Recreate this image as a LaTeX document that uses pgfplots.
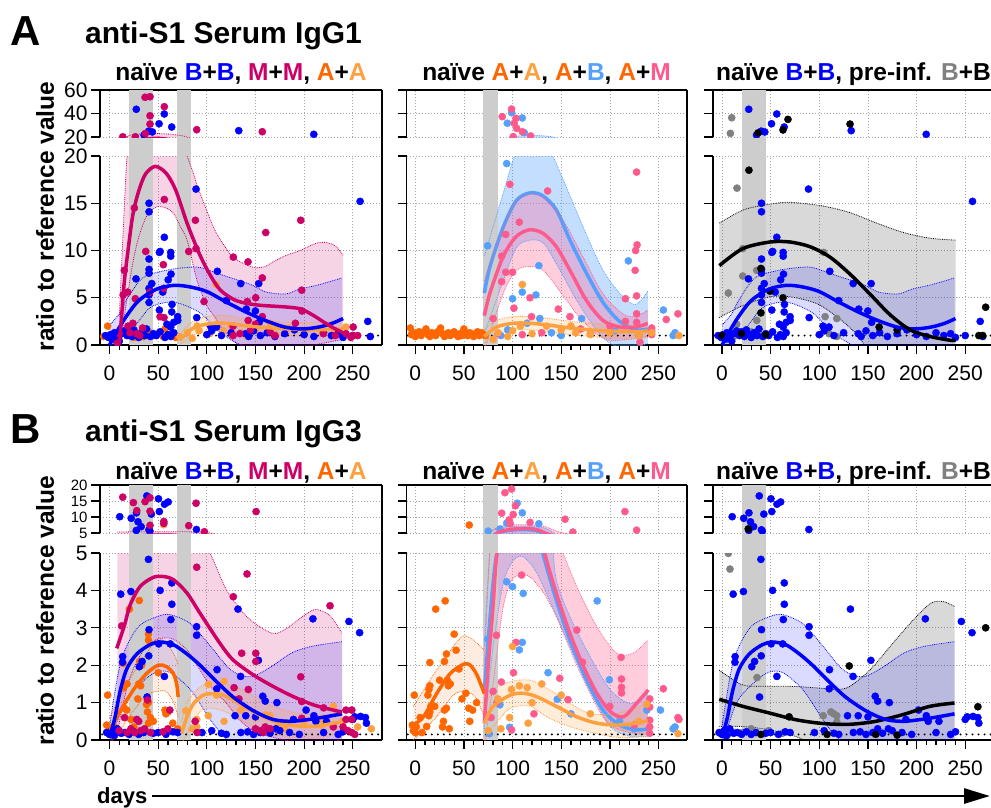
\documentclass[border=0pt]{standalone}
\usepackage{fontspec}
\setmainfont{Liberation Sans}
\usepackage{pgfplots}
\usepackage{pgfplotstable}
\pgfplotsset{compat=1.18}
\usepgfplotslibrary{fillbetween}
\usetikzlibrary{arrows.meta}

\definecolor{cB}{RGB}{0,0,255}
\definecolor{cM}{RGB}{204,0,102}
\definecolor{cA}{RGB}{255,102,0}
\definecolor{cAA}{RGB}{255,160,64}
\definecolor{cAB}{RGB}{85,160,255}
\definecolor{cAM}{RGB}{255,90,140}
\definecolor{cG}{RGB}{128,128,128}
\definecolor{cBar}{RGB}{205,205,205}

\pgfplotsset{
  every axis/.append style={
    scale only axis, clip marker paths=true,
    tick align=outside,
    major tick length=9pt, minor tick length=5pt,
    tick style={black, line width=1.3pt},
    axis line style={black, line width=1.6pt, -},
    grid=major,
    major grid style={gray!70, line width=0.7pt, dash pattern=on 1pt off 2pt},
    ticklabel style={font=\fontsize{21}{21}\selectfont},
    xticklabel style={yshift=-8pt},
    /pgf/number format/assume math mode=true,
    xtick={0,50,...,250},
  },
  lowax/.style={axis x line*=bottom, axis y line*=left, minor x tick num=4},
  upax/.style={axis x line*=top, axis y line*=left, xticklabels={}, every x tick/.style={draw=none}, minor x tick num=0},
  pL/.style={xmin=-9.8, xmax=280, width=282pt},
  pM/.style={xmin=-9, xmax=279.3, width=280.5pt},
  pR/.style={xmin=-9.25, xmax=276.5, width=278pt},
  rAlow/.style={ymin=0,ymax=20,ytick={0,5,10,15,20},height=189pt},
  rAup/.style={ymin=20,ymax=60,ytick={20,40,60},height=47pt},
  rBlow/.style={ymin=0,ymax=5,ytick={0,1,2,3,4,5},height=187pt},
  rBup/.style={ymin=5,ymax=20,ytick={5,10,15,20},height=48pt, yticklabel style={font=\fontsize{15}{15}\selectfont}},
  nolab/.style={yticklabels={}},
}

\newcommand{\band}[5]{%
  \addplot[name path=#1u, draw=#2, densely dotted, line width=0.8pt, smooth, forget plot] coordinates {#4};
  \addplot[name path=#1l, draw=#2, densely dotted, line width=0.8pt, smooth, forget plot] coordinates {#5};
  \addplot[fill=#2, fill opacity=#3, draw=none, forget plot] fill between[of=#1u and #1l];
}
\newcommand{\pts}[2]{\addplot[only marks, mark=*, mark size=3.6pt, color=#1, mark options={draw=none, fill=#1}] table[x=x,y=y] {#2};}
\newcommand{\fit}[2]{\addplot[color=#1, line width=3.5pt, smooth, no marks] coordinates {#2};}
\newcommand{\refline}[1]{\addplot[black, line width=2.2pt, dash pattern=on 0pt off 6pt, line cap=round, forget plot] coordinates {(-20,#1) (290,#1)};}

% ---------------- Row A data ----------------
\pgfplotstableread{
x y
27.5 43.6
35.5 21.7
40.3 25
44 24.3
50.9 31.3
56.3 39.6
63.9 28.5
132.8 25.4
209.9 22.3
40.6 15.0
40.6 14.1
88.9 16.5
56.3 11.4
40.6 9.1
40.6 8.0
40.6 7.6
51.2 9.8
62.9 9.8
62.9 9.4
43.4 6.5
40.6 6.0
40.6 5.3
40.6 4.5
63.2 7.5
54.7 5.6
64.2 4.3
51.2 3.7
63.9 3.5
62.9 1.9
70.1 2.6
27.2 7.0
110.8 7.8
134.8 6.5
153.3 6.5
120 4.7
149.9 3.6
89.6 2.9
110 1.9
257.5 15.2
265.4 2.5
52 9.9
60.3 6.9
70 3.0
66 2.4
59 2.2
103.8 2.0
153.8 2.4
140.6 3.8
-4 1.0
-1 0.8
1 1.1
3 0.6
5 1.3
8 0.9
10 0.4
12 1.2
15 1.5
18 1.0
20 1.4
23 0.9
25 1.6
28 1.1
30 0.8
33 1.3
36 1.0
38 1.7
42 0.9
45 1.2
48 1.0
52 1.4
57 0.8
60 1.1
63 0.9
66 1.3
100 1.1
105 1.5
115 1.0
125 1.3
140 1.2
143 0.9
148 1.5
155 1.0
162 1.3
170 0.9
180 1.2
190 1.6
200 1.1
210 0.9
220 1.3
228 1.0
235 1.2
240 0.8
250 1.0
268 0.9
}\tBA

\pgfplotstableread{
x y
13.6 20.2
26.5 20.2
36.8 23
36.5 53.8
41.6 54.3
41.6 38.1
41.6 31
56.3 45.8
89.6 26.2
157 24.5
15.2 7.9
14 5.3
18.7 5.6
25.5 14.5
37.2 9.9
26.5 4.9
41.6 5.6
56.3 15.4
55.3 8.5
55.7 6.0
51.9 3.0
56 2.9
81.4 9.9
88.2 13.2
88.9 10.2
97.1 4.6
127.2 9.3
142.3 8.8
141.6 4.6
150.2 5.0
157 7.1
160.5 11.9
196.5 13.2
197.5 5.8
197.8 3.6
191 2.3
127 2.0
142.5 2.6
157 3.0
150 2.2
250.4 1.9
219.7 1.2
243 1.2
250 1.0
255 1.0
10 1.2
8 0.2
19 2.0
21 1.3
28 1.2
31 1.0
24 2.3
34 1.8
127 1.0
134 1.2
145 1.6
165 1.4
170 1.0
232 1.0
248 0.8
}\tALm

\pgfplotstableread{
x y
-6 0.9
-2 2.0
2 0.8
6 1.1
10 0.9
15 1.3
20 1.0
25 0.8
30 1.2
35 0.9
40 1.4
45 1.0
50 1.2
55 0.9
57 1.7
62 1.1
68 0.8
}\tALa

\pgfplotstableread{
x y
72 0.9
80 1.3
85 0.7
92 1.5
103 1.2
109.5 6.4
117 1.5
125 2.0
135 1.3
150 1.6
165 2.3
171 1.1
184 1.8
200 1.4
218 1.5
233 1.2
243 1.9
268 0.9
90 2.0
110 2.2
140 1.0
}\tALaa

\pgfplotstableread{
x y
99 40.7
94.6 31.7
110 36.2
112 23.7
94 19.2
74.4 10.5
127 8.4
110 5.6
124 5.3
100 4.9
128 2.8
171 2.8
219 8.9
255 3.7
267 1.3
265 1.0
88 1.0
140 1.3
150 1.0
180 1.2
205 1.5
230 1.0
95 1.6
115 2.3
}\tAMab

\pgfplotstableread{
x y
89.4 37.3
99 43.8
101.7 31.7
103.5 35.9
110 24.5
100.7 20.3
104.2 27.4
118.6 20.9
227.5 18.3
97.3 17.0
136 16.3
106.9 13.0
92.9 11.7
88.8 9.4
93 7.7
100 7.7
88.8 6.7
117.9 5.0
101.4 3.9
147 3.8
159 3.0
119.5 3.0
226.5 10.0
228 10.6
226 7.9
227.5 5.2
216 4.9
216 2.5
227.5 3.3
227.5 2.4
258 2.7
270 3.3
231 0.3
243 1.1
243 1.5
243 1.8
85 1.2
110 1.1
130 1.3
170 1.7
200 2.0
80 2.8
}\tAMam

\pgfplotstableread{
x y
110 6.4
85 1.3
95 0.9
100 1.5
120 1.2
135 2.0
150 1.6
165 1.3
180 1.1
200 1.3
230 1.0
243 1.3
271 1.0
80 0.6
108 2.0
160 2.0
}\tAMaa

\pgfplotstableread{
x y
-5 1.8
-4 1.1
-2 1.3
0 0.9
2 1.2
4 1.4
6 1.0
8 1.3
11 1.7
13 1.1
15 0.9
17 1.3
19 1.2
21 1.0
23 1.4
26 1.8
28 1.2
30 0.9
32 1.1
34 1.3
36 1.0
38 1.2
40 1.4
42 1.1
44 0.9
46 1.2
48 1.0
50 1.7
52 1.2
54 1.0
56 1.3
58 1.1
60 0.9
62 1.2
64 1.4
66 1.0
68 1.3
70 1.1
72 1.0
}\tAMa

\pgfplotstableread{
x y
10 36.4
8.6 23.1
15.4 16.6
21.3 10.2
104.5 9.8
35.7 7.9
21.3 7.3
6.5 5.5
35.7 2.6
15.1 2.2
106 3.0
118 2.8
110 1.2
118 0.9
2 1.0
5 1.2
12 0.9
25 1.1
30 1.4
40 1.0
}\tARg

\pgfplotstableread{
x y
37 23.5
67.8 35
62.7 26
131.6 31
27.7 18.5
40 8.1
49.3 5.7
62.7 5.0
40 3.4
161.5 1.9
180 1.6
271 4.0
264 1.0
268 1.0
45 1.1
0 1.0
20 1.2
}\tARk

% ---------------- Row B data ----------------
\pgfplotstableread{
x y
10.5 10.1
22.3 9.6
27.7 11.3
29.3 8.5
32.5 7.0
27.5 5.8
38.3 16.6
43 10.9
40.5 6.0
41.5 5.6
50.3 15.7
51.2 11.7
56.5 14.0
60.3 14.7
89.3 6.1
40 4.83
11.5 3.9
22 3.97
52 4.0
64 4.2
64 3.63
63 3.22
89.5 3.03
89.5 2.8
132 3.5
209 3.24
246 3.17
257 2.87
40.6 2.95
13.5 2.23
13.3 2.08
40.3 2.25
33.5 2.1
30.6 1.96
50.5 2.57
62.4 2.57
56.4 1.7
110.5 1.88
110.2 1.37
134.7 1.7
153 2.13
160 1.04
172 1.0
189 0.55
202 0.8
250 0.55
264 0.45
157.5 1.17
38.6 1.15
212 0.5
223 0.5
210 0.65
252 0.62
258 0.63
263 0.6
129 0.65
140 0.65
150 0.62
171 0.3
175 0.25
-3 0.2
0 0.15
2 0.25
5 0.12
8 0.3
12 0.18
16 0.2
20 0.15
25 0.22
30 0.15
35 0.2
45 0.18
50 0.2
58 0.15
65 0.22
70 0.2
95 0.2
105 0.25
115 0.18
120 0.15
135 0.2
142 0.22
148 0.15
155 0.2
160 0.3
165 0.18
185 0.2
195 0.15
220 0.2
235 0.15
240 0.22
}\tBB

\pgfplotstableread{
x y
13.6 16.2
24.5 14.5
28 12.0
36.5 14.8
41.6 16.0
41.6 11.8
41.6 7.4
55.8 8.6
55.8 8.0
81.4 7.3
88.9 14.3
97.5 5.4
150.6 11.7
89.6 4.62
141.3 4.44
127.2 3.83
226.6 3.59
12.5 3.05
135.8 2.32
150.3 2.32
150.3 2.1
128 1.4
133 1.1
142.6 1.35
196.5 1.69
197.5 1.03
197.5 0.58
220 0.86
243 0.8
249 0.8
243 0.55
249 0.55
249 0.2
39 1.07
15.4 0.6
28 0.55
30 0.5
62 0.8
230 0.35
240 0.35
10 0.25
18 0.2
22 0.3
26 0.2
32 0.25
36 0.3
42 0.2
55 0.22
60 0.3
88 0.5
90 0.2
150 0.3
155 0.25
160 0.35
158 0.2
165 0.3
245 0.25
252 0.15
}\tBLm

\pgfplotstableread{
x y
30.6 3.73
20.4 3.5
40 2.83
40 2.67
14 2.05
31 2.1
33 2.0
50 1.8
30 1.5
32 1.45
18 1.5
14.6 1.4
-2 1.2
17.7 0.8
15 0.85
29 1.1
40 1.0
38 0.95
39 0.75
42 0.6
40 0.45
57 0.8
60 0.75
58 0.7
-3 0.4
0 0.3
5 0.35
22 0.55
25 0.35
45 0.5
65 0.45
70 0.3
}\tBLa

\pgfplotstableread{
x y
55.6 7.6
78.4 0.78
101.5 1.49
89.6 0.55
89.6 0.35
101.5 0.65
117.7 1.57
117.7 0.5
160.5 0.67
173.7 0.4
230 0.9
269 0.3
215 0.45
220 0.55
218 0.4
110 1.2
135 0.8
150 0.6
165 0.65
180 0.3
200 0.5
240 0.5
255 0.35
85 0.3
}\tBLaa

\pgfplotstableread{
x y
104.8 14.3
110 11.3
94 8.1
97 8.3
75 5.6
87 6.25
127 7.9
94 4.23
100 4.1
111 3.92
187 3.72
110 2.61
107 2.41
74.7 2.7
136.5 1.8
199.5 1.61
252 0.8
265 0.3
267 0.35
146 1.09
87 0.94
97 0.34
76 0.17
238 0.8
225 0.3
160 0.7
210 0.5
}\tBMab

\pgfplotstableread{
x y
92.2 17.6
99 18.75
103 13.5
100.7 10.8
88.8 11.2
96.6 9.1
97.6 7.9
118 8.3
154 9.3
162 5.3
215.5 11.7
227.5 5.9
109.3 4.41
166 2.94
103.5 2.61
83.5 2.8
101 1.8
148.5 1.65
172 2.08
211.6 2.21
212 1.63
212 1.41
212 1.26
255 1.37
270 0.6
271 0.55
241 1.1
241 0.88
241 0.53
241 0.35
241 0.18
122 0.7
157 1.08
99 0.27
80 1.3
88.5 1.55
84 1.0
78 0.6
200 0.9
225 0.4
}\tBMam

\pgfplotstableread{
x y
100 2.5
99 1.35
107 1.45
115 1.4
97 0.6
116 0.45
88 0.3
238 0.96
270 0.17
85 1.1
130 1.5
150 1.2
180 0.7
230 0.5
120 1.0
75 0.25
}\tBMaa

\pgfplotstableread{
x y
55.5 7.5
-1 1.2
-3 0.4
-2 0.25
0 0.2
1 0.35
7 0.2
11.7 0.36
13 1.2
14 1.35
15 1.45
15 2.07
16 0.9
15 0.75
14 0.65
21 3.5
30.8 3.72
30 2.1
32 2.3
34 1.45
36 1.5
33 1.6
40 2.83
29 0.5
28 0.35
35 0.3
30 0.8
32 0.85
52 1.25
55 0.85
59 0.8
56 0.5
63 1.0
45 1.9
48 1.1
5 0.6
20 0.9
25 1.6
42 2.4
}\tBMa

\pgfplotstableread{
x y
6.5 4.99
8.2 4.57
36 1.67
104 0.65
112 0.75
115 0.7
118 0.65
118 0.48
-2 0.18
1 0.18
7 0.18
14 0.2
21 0.2
48 0.25
62 0.18
30 0.3
}\tBRg

\pgfplotstableread{
x y
27 6.3
130.8 1.98
69 0.62
271 3.0
263 0.89
40 0.15
108 0.15
158 0.15
180 0.13
}\tBRk

% ---------------- shared fits ----------------
\newcommand{\BBAband}{\band{bba}{cB}{0.14}{(0,2.1) (10,3.3) (17,4.7) (34,7.1) (58,7.9) (79,8.2) (93,8.2) (113,7.5) (134,6.8) (147.5,6.3) (161,5.6) (181,5.4) (195,5.9) (216,6.4) (239,7.1)}{(0,-0.3) (10,0.6) (23.7,1.7) (41,3.9) (58,4.5) (72,4.4) (93,3.4) (113,1.4) (127,0.4) (150,-0.8) (180,-1.2) (210,-1.2) (239,-1.0)}}
\newcommand{\BBAfit}{\fit{cB}{(0,0) (8,1.5) (17,3.0) (30,4.7) (48,5.9) (65,6.3) (80,6.2) (99,5.7) (119,4.6) (140,3.5) (160,2.6) (180,1.9) (198,1.7) (215,1.9) (229,2.3) (240,2.8)}}
\newcommand{\BBBband}{\band{bbb}{cB}{0.14}{(0,0.36) (11.6,2.1) (28.8,3.0) (49,3.3) (62.7,3.35) (83.6,3.1) (104,2.5) (124.8,1.87) (145,1.69) (166,1.96) (186.5,2.32) (207,2.5) (239,2.63)}{(0,-0.2) (15,1.0) (35.7,1.6) (49,1.82) (62.7,1.8) (83.6,1.33) (104,0.53) (118,0.09) (140,-0.3) (239,-0.5)}}
\newcommand{\BBBfit}{\fit{cB}{(0,0.05) (5.7,0.62) (10.8,1.3) (17.7,1.9) (28,2.3) (41.6,2.55) (52,2.62) (65.5,2.55) (79.6,2.3) (93,2.0) (110,1.56) (127,1.15) (148,0.78) (168,0.55) (186,0.5) (205,0.55) (222,0.62) (239,0.7)}}

% ---------------- panel contents ----------------
\newcommand{\PAL}{%
  \band{alm}{cM}{0.17}{(10,3) (14,12) (18,20) (22,21.5) (30,22.5) (45,23) (60,22.5) (75,21) (85,18.5) (90,16.9) (100,14.2) (108,12.2) (118,10.5) (127,9.3) (138,8.6) (149,8.2) (160,8.3) (168,8.8) (182,9.5) (196,10.0) (213,10.8) (225,10.8) (233,10.4) (240,9.5)}{(10,0) (14,2) (18,5) (24.5,9.0) (30,11.4) (38,13.6) (48,14.6) (58,14.5) (66,13.9) (73,12.5) (80,11.0) (90,6.8) (100,4.2) (108,3.0) (122,0.9) (135,0) (150,-0.5) (175,-0.6) (200,-0.2) (220,0.2) (240,0.6)}
  \BBAband
  \band{ala}{cAA}{0.2}{(72,1.1) (84.5,2.4) (99,3.0) (120,3.1) (143,2.7) (167,2.5) (190,2.4) (210,2.4) (240,2.6)}{(72,0) (84.5,1.0) (99,1.4) (120,1.5) (143,1.3) (167,1.1) (190,1.0) (210,0.9) (240,0.8)}
  \refline{1}
  \pts{cA}{\tALa}
  \pts{cAA}{\tALaa}
  \pts{cB}{\tBA}
  \pts{cM}{\tALm}
  \fit{cAA}{(72,0.5) (78,1.1) (84.5,1.7) (99,2.2) (119.5,2.3) (143,2.0) (167,1.8) (188,1.7) (209,1.6) (240,1.7)}
  \BBAfit
  \fit{cM}{(10,0.3) (12,2.5) (15,6.5) (19,10) (24,13.8) (30,16.3) (37,18.1) (47,18.9) (58,18.2) (68,16.4) (80,12.8) (93,9.5) (104,7.3) (114,5.8) (128,4.8) (141,4.4) (155,4.2) (170,4.1) (184,4.0) (197,3.8) (210,3.1) (222,2.3) (232,1.7) (240,1.3)}
}
\newcommand{\PAM}{%
  \band{amb}{cAB}{0.35}{(71,9.4) (90.5,16.1) (104,20.5) (118,21.5) (138,20.5) (152,17.5) (172.5,12.5) (193,7.9) (213.5,5.1) (227,4.3) (239,5.7)}{(71,1.2) (90.5,6.8) (104,10.3) (118,11.1) (131.5,10.8) (145,8.6) (166,4.7) (186,1.6) (200,0.2) (220,-0.5) (239,0.2)}
  \fit{cAB}{(71,5.5) (76.8,8.3) (90.5,12.5) (104,15.3) (118,16.1) (131,15.8) (145,14.3) (159,11.1) (176,7.6) (193,4.5) (210,2.5) (227,1.6) (239,1.7)}
  \band{amm}{cAM}{0.3}{(71,6.8) (90.5,12.5) (104,15.3) (118,16.0) (131.5,15.6) (152,13.2) (172.5,9.3) (193,5.4) (213.5,3.3) (227,3.0) (239,3.7)}{(71,-0.5) (90.5,5.5) (104,7.9) (118,8.3) (131.5,7.9) (145,6.2) (166,3.3) (186,1.2) (200,0.5) (220,0.6) (239,0.9)}
  \band{ama}{cAA}{0.2}{(71,1.6) (83.5,2.6) (100.7,3.0) (118,3.0) (138,2.8) (159,2.5) (193,2.2) (227,2.1) (239,2.2)}{(71,0.2) (83.5,1.2) (100.7,1.6) (118,1.6) (138,1.4) (159,1.1) (193,0.8) (227,0.7) (239,0.8)}
  \refline{1}
  \pts{cA}{\tAMa}
  \pts{cAB}{\tAMab}
  \pts{cAM}{\tAMam}
  \pts{cAA}{\tAMaa}
  \fit{cA}{(-5,1.1) (20,1.2) (45,1.2) (72,1.2)}
  \fit{cAM}{(71,3.1) (76.8,5.5) (90.5,9.4) (104,11.5) (118,12.2) (131.5,11.8) (145,10.4) (159,7.9) (176,4.7) (193,2.6) (210,1.9) (227,1.9) (239,2.3)}
  \fit{cAA}{(71,0.9) (83.5,1.9) (100.7,2.3) (118,2.3) (138,2.1) (159,1.8) (193,1.5) (227,1.4) (239,1.5)}
}
\newcommand{\PAR}{%
  \band{ark}{black}{0.15}{(-2.7,12.9) (22,14.3) (49.3,14.9) (69.9,15.1) (104,14.7) (131.6,14.0) (159,12.9) (186.5,11.9) (214,11.3) (240,11.1)}{(-2.7,2.9) (22,4.2) (49.3,5.1) (70,5.1) (97,4.4) (118,3.0) (138,1.2) (152,-0.6) (180,-2) (210,-2.5) (240,-2.5)}
  \BBAband
  \refline{1}
  \pts{cG}{\tARg}
  \pts{cB}{\tBA}
  \pts{black}{\tARk}
  \BBAfit
  \fit{black}{(-2.7,8.4) (21.3,10.2) (49.3,10.9) (69.9,10.9) (90.5,10.4) (111,9.3) (131.6,7.5) (152,5.4) (172.8,3.2) (193.4,1.6) (214,0.9) (234.6,0.5) (240,0.5)}
}
\newcommand{\PBL}{%
  \band{blm}{cM}{0.17}{(8,5.3) (30,5.4) (60,5.4) (95,5.3) (105,4.9) (120.5,4.0) (141,3.3) (161.5,2.92) (172,2.85) (185.5,3.05) (202.6,3.38) (213,3.49) (226.6,3.32) (239,2.85)}{(8,0.2) (20,1.6) (35,2.4) (50,2.7) (65,2.7) (80,2.4) (93,1.87) (105,1.4) (119.6,1.0) (135,0.5) (152,0.2) (180,0) (210,-0.1) (239,0)}
  \BBBband
  \band{bla}{cA}{0.12}{(0,0.6) (12,1.2) (25,1.8) (38,2.3) (48.5,2.7) (58,2.6) (66,2.3) (70.6,2.0)}{(0,-0.1) (12,0.3) (25,0.8) (38,1.2) (48.5,1.3) (58,1.3) (66,1.0) (70.6,0.6)}
  \band{blaa}{cAA}{0.2}{(74.2,0.5) (79.6,1.0) (93,1.42) (106.6,1.55) (120,1.51) (141,1.28) (161.5,0.98) (185,0.76) (213,0.67) (239,0.76)}{(74.2,-0.1) (79.6,0.18) (93,0.76) (106.6,0.85) (127,0.67) (147.8,0.36) (178.7,0.1) (213,0.05) (239,0.2)}
  \refline{0.15}
  \pts{cA}{\tBLa}
  \pts{cAA}{\tBLaa}
  \pts{cB}{\tBB}
  \pts{cM}{\tBLm}
  \fit{cA}{(0.5,0.27) (10.8,0.76) (24.5,1.34) (38.2,1.78) (50,2.0) (58.6,1.96) (65.5,1.78) (69,1.5) (70.5,1.15)}
  \fit{cAA}{(74.2,0.18) (79.6,0.62) (86.5,0.98) (96.4,1.2) (106.6,1.24) (117,1.2) (127.2,1.07) (140.9,0.85) (161.5,0.58) (178.7,0.43) (195.8,0.37) (213,0.37) (230,0.45) (239,0.49)}
  \BBBfit
  \fit{cM}{(7.4,2.45) (15.4,3.07) (21,3.6) (31.3,4.1) (45,4.35) (55.8,4.37) (66,4.28) (79.6,3.93) (93,3.39) (113.6,2.58) (127,2.14) (147.8,1.74) (168.3,1.43) (188.9,1.16) (209.5,0.94) (230,0.8) (239,0.75)}
}
\newcommand{\PBM}{%
  \band{bmb}{cAB}{0.35}{(71,2.5) (78,5.5) (90,6.8) (110,7.2) (130,6.8) (140,5.5) (145,4.28) (159,3.3) (179.8,2.23) (200.5,1.34) (221,0.98) (239,1.25)}{(71,0.3) (80,2.5) (90.5,4.19) (100.7,4.8) (111,4.9) (124,4.5) (138,3.74) (159,2.5) (179.6,1.34) (200.5,0.36) (221,0.1) (239,0.1)}
  \fit{cAB}{(71,1.3) (76,3.0) (80,4.2) (84,5.0) (92,5.6) (100,5.95) (110,6.05) (120,5.95) (127,5.5) (131,5.0) (145,3.74) (159,2.67) (176,1.6) (193,0.8) (210,0.4) (227.5,0.27) (239,0.3)}
  \band{bmm}{cAM}{0.3}{(71,2.0) (78,5.5) (90,7.3) (110,7.6) (130,7.3) (145,5.6) (152,5.0) (166,4.1) (186.6,3.03) (207,2.32) (224,2.32) (239,2.67)}{(71,-0.2) (80,1.5) (90,3.5) (100,4.3) (115,4.4) (130,4.0) (145,3.3) (166,2.0) (186.6,0.9) (200,0.4) (220,0.2) (239,0.15)}
  \band{bma}{cA}{0.12}{(-2,0.9) (22,1.87) (46,2.72) (55,2.75) (63,2.6) (71,2.4)}{(-2,0.0) (22,0.62) (39,1.2) (52.5,1.3) (63,1.1) (71,0.6)}
  \band{bmaa}{cAA}{0.2}{(71,0.8) (80,1.34) (97.7,1.56) (118,1.6) (138,1.34) (159,0.98) (179.7,0.71) (207,0.71) (239,0.98)}{(71,0.1) (80,0.36) (97.7,0.85) (118,0.9) (138,0.58) (166,0.3) (207,0.07) (239,0.1)}
  \refline{0.15}
  \pts{cA}{\tBMa}
  \pts{cAB}{\tBMab}
  \pts{cAM}{\tBMam}
  \pts{cAA}{\tBMaa}
  \fit{cA}{(-2,0.4) (8.4,0.62) (22,1.24) (36,1.78) (50,2.03) (56.5,2.0) (63.4,1.74) (71,1.24)}
  \fit{cAM}{(71,0.45) (75,2.0) (80,3.6) (84,5.0) (92,5.8) (100,6.2) (110,6.35) (120,6.3) (128,5.8) (133,5.0) (145,3.92) (159,2.85) (173,1.96) (186.6,1.25) (200.5,0.76) (214,0.62) (227.5,0.98) (239.5,1.34)}
  \fit{cAA}{(71,0.45) (80,0.9) (97.7,1.2) (111,1.25) (124.6,1.16) (145,0.9) (166,0.62) (186.6,0.45) (207,0.4) (227.5,0.45) (239,0.52)}
}
\newcommand{\PBR}{%
  \band{brk}{black}{0.15}{(-2.8,1.87) (21.4,1.47) (49,1.44) (76.4,1.43) (104,1.38) (117.8,1.35) (131,1.43) (152,1.87) (172.8,2.5) (193.4,3.12) (214,3.65) (227.7,3.7) (239,3.57)}{(-2.8,0.36) (21.4,0.36) (49,0.27) (76.4,0.09) (104,-0.1) (239,-0.1)}
  \BBBband
  \refline{0.15}
  \pts{cG}{\tBRg}
  \pts{cB}{\tBB}
  \pts{black}{\tBRk}
  \fit{black}{(-2.8,1.09) (21.4,0.9) (49,0.72) (76.4,0.54) (104,0.44) (131,0.42) (158,0.5) (186,0.68) (213.6,0.9) (239,0.99)}
  \BBBfit
}

\begin{document}
\begin{tikzpicture}
% grey vaccination windows
\fill[cBar] (129pt,-90pt) rectangle (153pt,-345pt);
\fill[cBar] (177pt,-90pt) rectangle (191pt,-345pt);
\fill[cBar] (483.4pt,-90pt) rectangle (497.5pt,-345pt);
\fill[cBar] (741.5pt,-90pt) rectangle (765.8pt,-345pt);
\fill[cBar] (129pt,-485pt) rectangle (153pt,-740pt);
\fill[cBar] (177pt,-485pt) rectangle (191pt,-740pt);
\fill[cBar] (483.4pt,-485pt) rectangle (497.5pt,-740pt);
\fill[cBar] (741.5pt,-485pt) rectangle (765.8pt,-740pt);

% ---- Row A ----
\begin{axis}[pL,rAlow,lowax,at={(100pt,-345pt)},anchor=south west] \PAL \end{axis}
\begin{axis}[pL,rAup,upax,at={(100pt,-137pt)},anchor=south west] \PAL \end{axis}
\begin{axis}[pM,rAlow,lowax,nolab,at={(406.5pt,-345pt)},anchor=south west] \PAM \end{axis}
\begin{axis}[pM,rAup,upax,nolab,at={(406.5pt,-137pt)},anchor=south west] \PAM \end{axis}
\begin{axis}[pR,rAlow,lowax,nolab,at={(713pt,-345pt)},anchor=south west] \PAR \end{axis}
\begin{axis}[pR,rAup,upax,nolab,at={(713pt,-137pt)},anchor=south west] \PAR \end{axis}
% ---- Row B ----
\begin{axis}[pL,rBlow,lowax,at={(100pt,-740pt)},anchor=south west] \PBL \end{axis}
\begin{axis}[pL,rBup,upax,at={(100pt,-533pt)},anchor=south west] \PBL \end{axis}
\begin{axis}[pM,rBlow,lowax,nolab,at={(406.5pt,-740pt)},anchor=south west] \PBM \end{axis}
\begin{axis}[pM,rBup,upax,nolab,at={(406.5pt,-533pt)},anchor=south west] \PBM \end{axis}
\begin{axis}[pR,rBlow,lowax,nolab,at={(713pt,-740pt)},anchor=south west] \PBR \end{axis}
\begin{axis}[pR,rBup,upax,nolab,at={(713pt,-533pt)},anchor=south west] \PBR \end{axis}

% right borders
\draw[line width=1.6pt] (382pt,-90pt) -- (382pt,-345pt);
\draw[line width=1.6pt] (687pt,-90pt) -- (687pt,-345pt);
\draw[line width=1.6pt] (382pt,-485pt) -- (382pt,-740pt);
\draw[line width=1.6pt] (687pt,-485pt) -- (687pt,-740pt);

% titles
\node[font=\fontsize{42}{42}\selectfont\bfseries] at (26pt,-31pt) {A};
\node[font=\fontsize{42}{42}\selectfont\bfseries] at (26pt,-429pt) {B};
\node[anchor=base west, font=\fontsize{30}{30}\selectfont\bfseries, inner sep=0pt] at (85pt,-43pt) {anti-S1 Serum IgG1};
\node[anchor=base west, font=\fontsize{30}{30}\selectfont\bfseries, inner sep=0pt] at (85pt,-441pt) {anti-S1 Serum IgG3};

\foreach \yy in {80,479} {
  \node[anchor=base, font=\fontsize{24.5}{24.5}\selectfont\bfseries, inner sep=0pt] at (241pt,-\yy pt) {naïve {\color{cB}B}+{\color{cB}B}, {\color{cM}M}+{\color{cM}M}, {\color{cA}A}+{\color{cAA}A}};
  \node[anchor=base, font=\fontsize{24.5}{24.5}\selectfont\bfseries, inner sep=0pt] at (546.5pt,-\yy pt) {naïve {\color{cA}A}+{\color{cAA}A}, {\color{cA}A}+{\color{cAB}B}, {\color{cA}A}+{\color{cAM}M}};
  \node[anchor=base west, font=\fontsize{24.5}{24.5}\selectfont\bfseries, inner sep=0pt] at (716pt,-\yy pt) {naïve {\color{cB}B}+{\color{cB}B}, pre-inf. {\color{cG}B}+B};
}

\node[rotate=90, font=\fontsize{24.5}{24.5}\selectfont\bfseries, inner sep=0pt] at (45pt,-216.5pt) {ratio to reference value};
\node[rotate=90, font=\fontsize{24.5}{24.5}\selectfont\bfseries, inner sep=0pt] at (45pt,-610.5pt) {ratio to reference value};

\node[anchor=base west, font=\fontsize{22}{22}\selectfont\bfseries, inner sep=0pt] at (97pt,-803pt) {days};
\draw[line width=2.8pt, -{Triangle[length=26pt,width=15pt]}] (152pt,-796pt) -- (990pt,-796pt);

\pgfresetboundingbox
\path (0pt,0pt) rectangle (991pt,-807pt);
\end{tikzpicture}
\end{document}
